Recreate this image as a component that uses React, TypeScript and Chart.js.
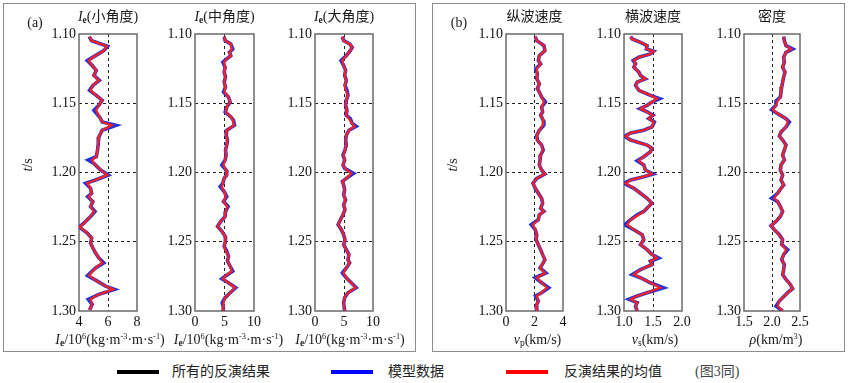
import React, { useEffect, useRef } from "react";
import { Chart, registerables } from "chart.js";
Chart.register(...registerables);

// ---------- DATA (time in s) ----------
const TIME_MIN = 1.1;
const TIME_MAX = 1.3;
const TIME_STEP = 0.05;

// (a1) Ie small angle, 10^6 kg·m^-3·m·s^-1
const A1_T = [1.1019,1.1048,1.1089,1.1120,1.1156,1.1192,1.1228,1.1263,1.1299,1.1335,1.1371,1.1407,1.1443,1.1479,1.1515,1.1551,1.1599,1.1635,1.1659,1.1695,1.1743,1.1790,1.1838,1.1886,1.1910,1.1934,1.1982,1.2018,1.2054,1.2078,1.2114,1.2150,1.2174,1.2210,1.2246,1.2281,1.2317,1.2353,1.2394,1.2437,1.2473,1.2509,1.2545,1.2581,1.2617,1.2653,1.2689,1.2744,1.2784,1.2820,1.2844,1.2880,1.2916,1.2952,1.2993];
const A1_MEAN = [4.75,4.87,5.92,5.71,5.14,4.66,4.91,5.19,5.03,5.37,4.96,4.80,5.19,5.60,5.37,5.19,5.42,5.60,6.25,5.60,5.37,5.33,5.28,5.19,4.91,5.03,5.49,5.94,5.14,4.57,4.80,4.87,4.66,4.96,4.80,5.03,4.80,4.46,4.07,4.57,4.87,4.80,4.96,5.14,5.37,5.60,5.14,4.69,5.26,5.83,6.35,5.37,4.80,4.91,4.73];
const A1_MODEL = [4.70,4.87,5.97,5.71,5.14,4.57,4.91,5.19,5.03,5.40,4.96,4.73,5.19,5.60,5.37,5.03,5.42,5.60,6.55,5.60,5.37,5.33,5.28,5.19,4.64,5.03,5.49,6.02,5.14,4.46,4.80,4.87,4.60,4.96,4.80,5.10,4.80,4.46,4.02,4.57,4.87,4.80,4.96,5.14,5.37,5.71,5.14,4.59,5.26,5.83,6.45,5.37,4.64,4.91,4.73];

// (a2) Ie middle angle
const A2_T = [1.1019,1.1048,1.1072,1.1108,1.1132,1.1156,1.1180,1.1204,1.1240,1.1275,1.1311,1.1347,1.1383,1.1419,1.1455,1.1491,1.1527,1.1563,1.1599,1.1623,1.1659,1.1695,1.1731,1.1766,1.1802,1.1838,1.1874,1.1910,1.1946,1.1982,1.2018,1.2042,1.2078,1.2102,1.2138,1.2174,1.2210,1.2246,1.2281,1.2317,1.2353,1.2389,1.2425,1.2461,1.2497,1.2533,1.2569,1.2605,1.2641,1.2677,1.2713,1.2749,1.2768,1.2796,1.2832,1.2868,1.2904,1.2940,1.2976,1.3000];
const A2_MEAN = [4.94,5.11,6.07,6.24,5.84,6.07,5.39,4.94,5.11,4.94,5.17,4.94,5.17,5.00,5.67,5.96,5.39,5.28,6.07,6.40,6.63,5.39,5.28,5.51,5.39,5.17,5.28,5.11,4.83,5.28,5.39,4.94,4.72,4.55,4.94,5.22,4.83,5.51,5.17,5.11,4.38,3.82,4.55,5.11,5.17,4.94,5.28,5.67,5.51,5.96,6.24,5.11,4.72,5.67,6.80,5.96,5.11,4.83,4.83,4.72];
const A2_MODEL = [4.94,5.11,6.07,6.40,5.84,6.07,5.39,4.72,5.11,4.94,5.17,4.94,5.17,4.83,5.67,5.96,5.39,5.11,6.07,6.52,6.70,5.39,5.28,5.51,5.39,5.17,5.28,5.11,4.55,5.28,5.39,4.94,4.72,4.27,4.94,5.39,4.83,5.62,5.17,5.11,4.38,3.82,4.55,5.11,5.17,4.94,5.39,5.67,5.51,5.96,6.40,5.11,4.55,5.67,6.90,5.96,5.11,4.61,4.83,4.72];

// (a3) Ie large angle
const A3_T = [1.1019,1.1048,1.1072,1.1096,1.1120,1.1156,1.1192,1.1228,1.1263,1.1299,1.1335,1.1371,1.1407,1.1443,1.1479,1.1515,1.1551,1.1587,1.1611,1.1647,1.1666,1.1695,1.1731,1.1766,1.1802,1.1838,1.1874,1.1910,1.1946,1.1970,1.2006,1.2042,1.2066,1.2090,1.2126,1.2162,1.2198,1.2234,1.2269,1.2305,1.2341,1.2377,1.2413,1.2449,1.2485,1.2521,1.2557,1.2593,1.2629,1.2653,1.2689,1.2725,1.2760,1.2796,1.2832,1.2868,1.2904,1.2940,1.3000];
const A3_MEAN = [4.72,4.94,5.97,6.42,6.08,5.40,4.72,4.94,5.28,5.11,5.40,5.17,5.28,5.68,5.40,5.28,5.51,5.40,5.85,6.42,6.82,5.85,5.40,5.28,5.40,5.17,4.94,5.11,4.83,5.11,6.25,5.40,4.72,4.94,5.11,4.94,5.28,4.94,5.17,4.83,4.38,3.98,4.55,4.94,5.17,4.94,5.40,5.85,5.68,5.97,5.40,4.94,5.40,6.25,6.99,5.68,5.11,4.94,5.11];
const A3_MODEL = [4.72,4.94,5.97,6.42,6.08,5.40,4.49,4.94,5.28,5.11,5.40,5.17,5.51,5.68,5.40,5.28,5.51,5.40,6.08,6.42,7.10,5.85,5.40,5.28,5.40,5.17,4.83,5.11,4.83,5.11,6.65,5.40,4.72,4.94,5.11,4.94,5.28,4.94,5.17,4.83,4.38,3.98,4.55,4.94,5.17,4.94,5.40,5.85,5.68,5.97,5.40,4.72,5.40,6.25,7.10,5.68,5.11,4.94,5.11];

// (b1) vp km/s
const B1_T = [1.1019,1.1048,1.1084,1.1120,1.1156,1.1192,1.1216,1.1251,1.1287,1.1323,1.1359,1.1395,1.1419,1.1455,1.1491,1.1527,1.1563,1.1587,1.1623,1.1659,1.1695,1.1731,1.1766,1.1802,1.1838,1.1874,1.1910,1.1946,1.1982,1.2011,1.2042,1.2078,1.2114,1.2150,1.2186,1.2222,1.2258,1.2281,1.2305,1.2341,1.2377,1.2413,1.2449,1.2485,1.2521,1.2557,1.2593,1.2629,1.2653,1.2689,1.2725,1.2760,1.2796,1.2832,1.2868,1.2892,1.2928,1.2964,1.3000];
const B1_MEAN = [2.05,2.16,2.66,2.73,2.34,2.27,2.43,2.16,2.20,2.16,2.34,2.20,2.34,2.50,2.66,2.50,2.57,2.43,2.61,2.57,2.34,2.16,2.20,2.50,2.57,2.43,2.39,2.34,2.50,2.73,2.16,1.89,2.05,2.27,2.50,2.57,2.43,2.66,2.34,2.27,1.89,2.05,2.16,2.11,2.27,2.43,2.57,2.73,2.61,2.39,2.73,2.16,2.50,2.89,2.50,2.16,2.27,2.11,2.16];
const B1_MODEL = [2.05,2.16,2.66,2.73,2.34,2.27,2.43,2.09,2.20,2.16,2.34,2.20,2.34,2.50,2.77,2.50,2.57,2.43,2.61,2.66,2.34,2.16,2.20,2.50,2.61,2.43,2.39,2.34,2.50,2.73,2.16,1.89,2.05,2.27,2.50,2.57,2.43,2.66,2.34,2.27,1.77,2.05,2.16,2.11,2.27,2.43,2.57,2.73,2.61,2.39,2.80,2.05,2.50,3.00,2.50,2.07,2.27,2.11,2.16];

// (b2) vs km/s
const B2_T = [1.1019,1.1036,1.1060,1.1084,1.1108,1.1125,1.1144,1.1168,1.1192,1.1216,1.1240,1.1275,1.1299,1.1323,1.1347,1.1371,1.1407,1.1443,1.1467,1.1491,1.1515,1.1539,1.1563,1.1587,1.1611,1.1635,1.1671,1.1695,1.1714,1.1738,1.1766,1.1802,1.1826,1.1850,1.1886,1.1915,1.1946,1.1982,1.2011,1.2030,1.2054,1.2078,1.2114,1.2150,1.2186,1.2222,1.2246,1.2281,1.2305,1.2341,1.2377,1.2413,1.2449,1.2485,1.2521,1.2557,1.2593,1.2617,1.2641,1.2665,1.2701,1.2737,1.2760,1.2796,1.2832,1.2868,1.2892,1.2916,1.2940,1.2964,1.3000];
const B2_MEAN = [1.114,1.142,1.284,1.398,1.386,1.511,1.455,1.256,1.170,1.199,1.170,1.256,1.284,1.369,1.227,1.199,1.256,1.455,1.568,1.483,1.398,1.284,1.398,1.500,1.426,1.511,1.483,1.341,1.114,1.028,1.114,1.398,1.483,1.455,1.341,1.256,1.341,1.369,1.483,1.341,1.114,1.028,1.170,1.284,1.398,1.483,1.426,1.341,1.256,1.114,1.057,1.170,1.313,1.341,1.284,1.398,1.483,1.568,1.455,1.483,1.284,1.170,1.284,1.455,1.625,1.398,1.227,1.114,1.227,1.199,1.227];
const B2_MODEL = [1.114,1.142,1.284,1.398,1.386,1.511,1.455,1.256,1.159,1.199,1.170,1.256,1.284,1.369,1.227,1.199,1.256,1.455,1.614,1.483,1.398,1.273,1.398,1.500,1.426,1.523,1.483,1.341,1.114,1.011,1.114,1.398,1.483,1.455,1.341,1.227,1.341,1.369,1.500,1.341,1.114,1.000,1.170,1.284,1.398,1.483,1.426,1.341,1.227,1.114,1.011,1.170,1.313,1.341,1.284,1.398,1.483,1.597,1.455,1.483,1.284,1.142,1.284,1.455,1.682,1.398,1.227,1.085,1.227,1.199,1.227];

// (b3) density
const B3_T = [1.1019,1.1048,1.1084,1.1108,1.1132,1.1168,1.1204,1.1240,1.1275,1.1311,1.1347,1.1383,1.1419,1.1455,1.1484,1.1515,1.1546,1.1575,1.1611,1.1635,1.1671,1.1707,1.1738,1.1766,1.1802,1.1838,1.1874,1.1910,1.1946,1.1982,1.2018,1.2054,1.2090,1.2121,1.2150,1.2186,1.2210,1.2246,1.2281,1.2317,1.2353,1.2384,1.2413,1.2449,1.2485,1.2521,1.2557,1.2593,1.2629,1.2665,1.2701,1.2737,1.2772,1.2808,1.2839,1.2868,1.2904,1.2928,1.2964,1.3000];
const B3_MEAN = [2.208,2.220,2.250,2.339,2.250,2.208,2.220,2.190,2.232,2.208,2.190,2.173,2.161,2.149,2.101,2.071,2.012,2.101,2.250,2.280,2.250,2.161,2.131,2.190,2.250,2.220,2.190,2.220,2.161,2.149,2.190,2.161,2.208,2.149,2.101,2.042,2.101,2.149,2.190,2.149,2.071,1.982,2.042,2.131,2.190,2.173,2.250,2.208,2.173,2.220,2.208,2.190,2.250,2.327,2.369,2.280,2.190,2.131,2.101,2.190];
const B3_MODEL = [2.208,2.220,2.250,2.369,2.250,2.208,2.220,2.190,2.232,2.208,2.190,2.173,2.161,2.149,2.071,2.071,1.994,2.101,2.250,2.310,2.250,2.161,2.131,2.190,2.250,2.220,2.190,2.220,2.161,2.149,2.190,2.161,2.208,2.149,2.101,1.994,2.101,2.149,2.190,2.149,2.071,1.982,2.042,2.131,2.190,2.173,2.280,2.208,2.173,2.220,2.208,2.190,2.250,2.327,2.369,2.280,2.190,2.131,2.071,2.190];

// x-axis ranges / tick steps
const A1_X = [4, 8, 2, 0];
const A2_X = [0, 10, 5, 0];
const A3_X = [0, 10, 5, 0];
const B1_X = [0, 4, 2, 0];
const B2_X = [1, 2, 0.5, 1];
const B3_X = [1.5, 2.5, 0.5, 1];

const LEGEND_LABELS = ["所有的反演结果", "模型数据", "反演结果的均值"];

// ---------- STYLE / LAYOUT ----------
const SERIF = "'Liberation Serif', 'Times New Roman', serif";
const MIXED = "'Liberation Serif', 'Noto Sans CJK SC', serif";
const BLUE = "#2034d8";
const RED = "#ff1f1f";
const PLOT_TOP = 34;
const PLOT_BOTTOM = 311;
const CANVAS_TOP = 20;
const Y_AXIS_W = 45;
const X_AXIS_H = 26;
const PAD_R = 12;

const boxPlugin = {
  id: "plotBox",
  beforeDatasetsDraw(chart: any) {
    const { ctx, chartArea: a } = chart;
    ctx.save();
    ctx.strokeStyle = "#6a6a6a";
    ctx.lineWidth = 1.5;
    ctx.strokeRect(a.left, a.top, a.right - a.left, a.bottom - a.top);
    ctx.restore();
  },
};

type PanelProps = {
  left: number;
  right: number;
  t: number[];
  model: number[];
  mean: number[];
  xr: number[];
};

function Panel(p: PanelProps) {
  const ref = useRef<HTMLCanvasElement>(null);
  const w = p.right - p.left + Y_AXIS_W + PAD_R;
  const h = PLOT_BOTTOM - CANVAS_TOP + X_AXIS_H;
  useEffect(() => {
    const [xMin, xMax, xStep, xDec] = p.xr;
    const tickFont = { family: SERIF, size: 14 };
    const gridColor = (min: number, max: number) => (c: any) => {
      const v = c.tick ? c.tick.value : NaN;
      if (Math.abs(v - min) < 1e-6 || Math.abs(v - max) < 1e-6) return "rgba(0,0,0,0)";
      return "#222";
    };
    const chart = new Chart(ref.current as HTMLCanvasElement, {
      type: "line",
      data: {
        datasets: [
          {
            label: LEGEND_LABELS[2],
            data: p.t.map((t, i) => ({ x: p.mean[i], y: t })),
            borderColor: RED,
            borderWidth: 2.2,
            pointRadius: 0,
            tension: 0,
            order: 0,
          },
          {
            label: LEGEND_LABELS[1],
            data: p.t.map((t, i) => ({ x: p.model[i], y: t })),
            borderColor: BLUE,
            borderWidth: 3.6,
            pointRadius: 0,
            tension: 0,
            order: 1,
          },
        ],
      },
      options: {
        animation: false,
        responsive: false,
        maintainAspectRatio: false,
        indexAxis: "y",
        layout: { padding: { top: PLOT_TOP - CANVAS_TOP, right: PAD_R, left: 0, bottom: 0 } },
        plugins: { legend: { display: false }, tooltip: { enabled: false } },
        scales: {
          x: {
            type: "linear",
            position: "bottom",
            min: xMin,
            max: xMax,
            afterFit: (s: any) => {
              s.height = X_AXIS_H;
            },
            grid: { color: gridColor(xMin, xMax), lineWidth: 1, drawTicks: false },
            border: { display: false, dash: [3, 3] },
            ticks: {
              stepSize: xStep,
              autoSkip: false,
              maxRotation: 0,
              padding: 3,
              color: "#111",
              font: tickFont,
              callback: (v: any) => Number(v).toFixed(xDec),
            },
          },
          y: {
            type: "linear",
            position: "left",
            reverse: true,
            min: TIME_MIN,
            max: TIME_MAX,
            afterFit: (s: any) => {
              s.width = Y_AXIS_W;
            },
            grid: { color: gridColor(TIME_MIN, TIME_MAX), lineWidth: 1, drawTicks: false },
            border: { display: false, dash: [3, 3] },
            ticks: {
              stepSize: TIME_STEP,
              autoSkip: false,
              padding: 3,
              color: "#111",
              font: tickFont,
              callback: (v: any) => Number(v).toFixed(2),
            },
          },
        },
      } as any,
      plugins: [boxPlugin],
    });
    return () => chart.destroy();
  }, []);
  return (
    <canvas
      ref={ref}
      width={w}
      height={h}
      style={{ position: "absolute", left: p.left - Y_AXIS_W, top: CANVAS_TOP, width: w, height: h }}
    />
  );
}

function Txt(props: { x: number; y: number; size?: number; rotate?: number; color?: string; children: any }) {
  const { x, y, size = 14, rotate = 0, color = "#1a1a1a", children } = props;
  return (
    <div
      style={{
        position: "absolute",
        left: x,
        top: y,
        transform: `translate(-50%, -50%) rotate(${rotate}deg)`,
        whiteSpace: "nowrap",
        fontSize: size,
        fontFamily: MIXED,
        color,
        lineHeight: 1,
      }}
    >
      {children}
    </div>
  );
}

const sub = (s: string, bold = false) => (
  <span style={{ fontSize: "0.68em", position: "relative", top: "0.22em", fontWeight: bold ? 700 : 400 }}>{s}</span>
);
const sup = (s: string) => <span style={{ fontSize: "0.6em", position: "relative", top: "-0.55em" }}>{s}</span>;

const IeUnit = () => (
  <>
    <i>I</i>
    {sub("e", true)}/10{sup("6")}(kg·m{sup("-3")}·m·s{sup("-1")})
  </>
);

export default function App() {
  const panels = [
    { left: 79, right: 137, t: A1_T, model: A1_MODEL, mean: A1_MEAN, xr: A1_X },
    { left: 195, right: 254, t: A2_T, model: A2_MODEL, mean: A2_MEAN, xr: A2_X },
    { left: 315, right: 373, t: A3_T, model: A3_MODEL, mean: A3_MEAN, xr: A3_X },
    { left: 506, right: 563, t: B1_T, model: B1_MODEL, mean: B1_MEAN, xr: B1_X },
    { left: 624, right: 682, t: B2_T, model: B2_MODEL, mean: B2_MEAN, xr: B2_X },
    { left: 744, right: 800, t: B3_T, model: B3_MODEL, mean: B3_MEAN, xr: B3_X },
  ];
  const cx = (i: number) => (panels[i].left + panels[i].right) / 2;
  const boxStyle = (left: number): React.CSSProperties => ({
    position: "absolute",
    left,
    top: 3,
    width: 413,
    height: 349,
    border: "1px solid #8c8c8c",
    boxSizing: "border-box",
  });
  const legendLine = (left: number, color: string): React.CSSProperties => ({
    position: "absolute",
    left,
    top: 370,
    width: 42,
    height: 4,
    background: color,
  });
  const legendText = (left: number, color = "#222"): React.CSSProperties => ({
    position: "absolute",
    left,
    top: 372,
    transform: "translateY(-50%)",
    fontSize: 14,
    fontFamily: MIXED,
    color,
    whiteSpace: "nowrap",
    lineHeight: 1,
  });
  return (
    <div style={{ position: "absolute", left: 0, top: 0, width: 850, height: 383, background: "#fff", overflow: "hidden" }}>
      <div style={boxStyle(3)} />
      <div style={boxStyle(432)} />
      {panels.map((p, i) => (
        <Panel key={i} {...p} />
      ))}
      <Txt x={35} y={23}>(a)</Txt>
      <Txt x={459} y={23}>(b)</Txt>
      <Txt x={28} y={165} rotate={-90}>
        <i>t</i>/s
      </Txt>
      <Txt x={453} y={165} rotate={-90}>
        <i>t</i>/s
      </Txt>
      <Txt x={cx(0)} y={17}>
        <i>I</i>
        {sub("e", true)}(小角度)
      </Txt>
      <Txt x={cx(1)} y={17}>
        <i>I</i>
        {sub("e", true)}(中角度)
      </Txt>
      <Txt x={cx(2)} y={17}>
        <i>I</i>
        {sub("e", true)}(大角度)
      </Txt>
      <Txt x={cx(3)} y={17}>纵波速度</Txt>
      <Txt x={cx(4)} y={17}>横波速度</Txt>
      <Txt x={cx(5)} y={17}>密度</Txt>
      <Txt x={cx(0) + 2} y={340}>
        <IeUnit />
      </Txt>
      <Txt x={cx(1) + 4} y={340}>
        <IeUnit />
      </Txt>
      <Txt x={cx(2) + 6} y={340}>
        <IeUnit />
      </Txt>
      <Txt x={cx(3) + 3} y={340}>
        <i>v</i>
        {sub("p")}(km/s)
      </Txt>
      <Txt x={cx(4) + 2} y={340}>
        <i>v</i>
        {sub("s")}(km/s)
      </Txt>
      <Txt x={cx(5) + 4} y={340}>
        <i>ρ</i>(km/m{sup("3")})
      </Txt>
      <div style={legendLine(117, "#000")} />
      <div style={legendText(172)}>{LEGEND_LABELS[0]}</div>
      <div style={legendLine(331, "#0000ff")} />
      <div style={legendText(388)}>{LEGEND_LABELS[1]}</div>
      <div style={legendLine(506, "#ff0000")} />
      <div style={legendText(564)}>{LEGEND_LABELS[2]}</div>
      <div style={legendText(695, "#444")}>(图3同)</div>
    </div>
  );
}
